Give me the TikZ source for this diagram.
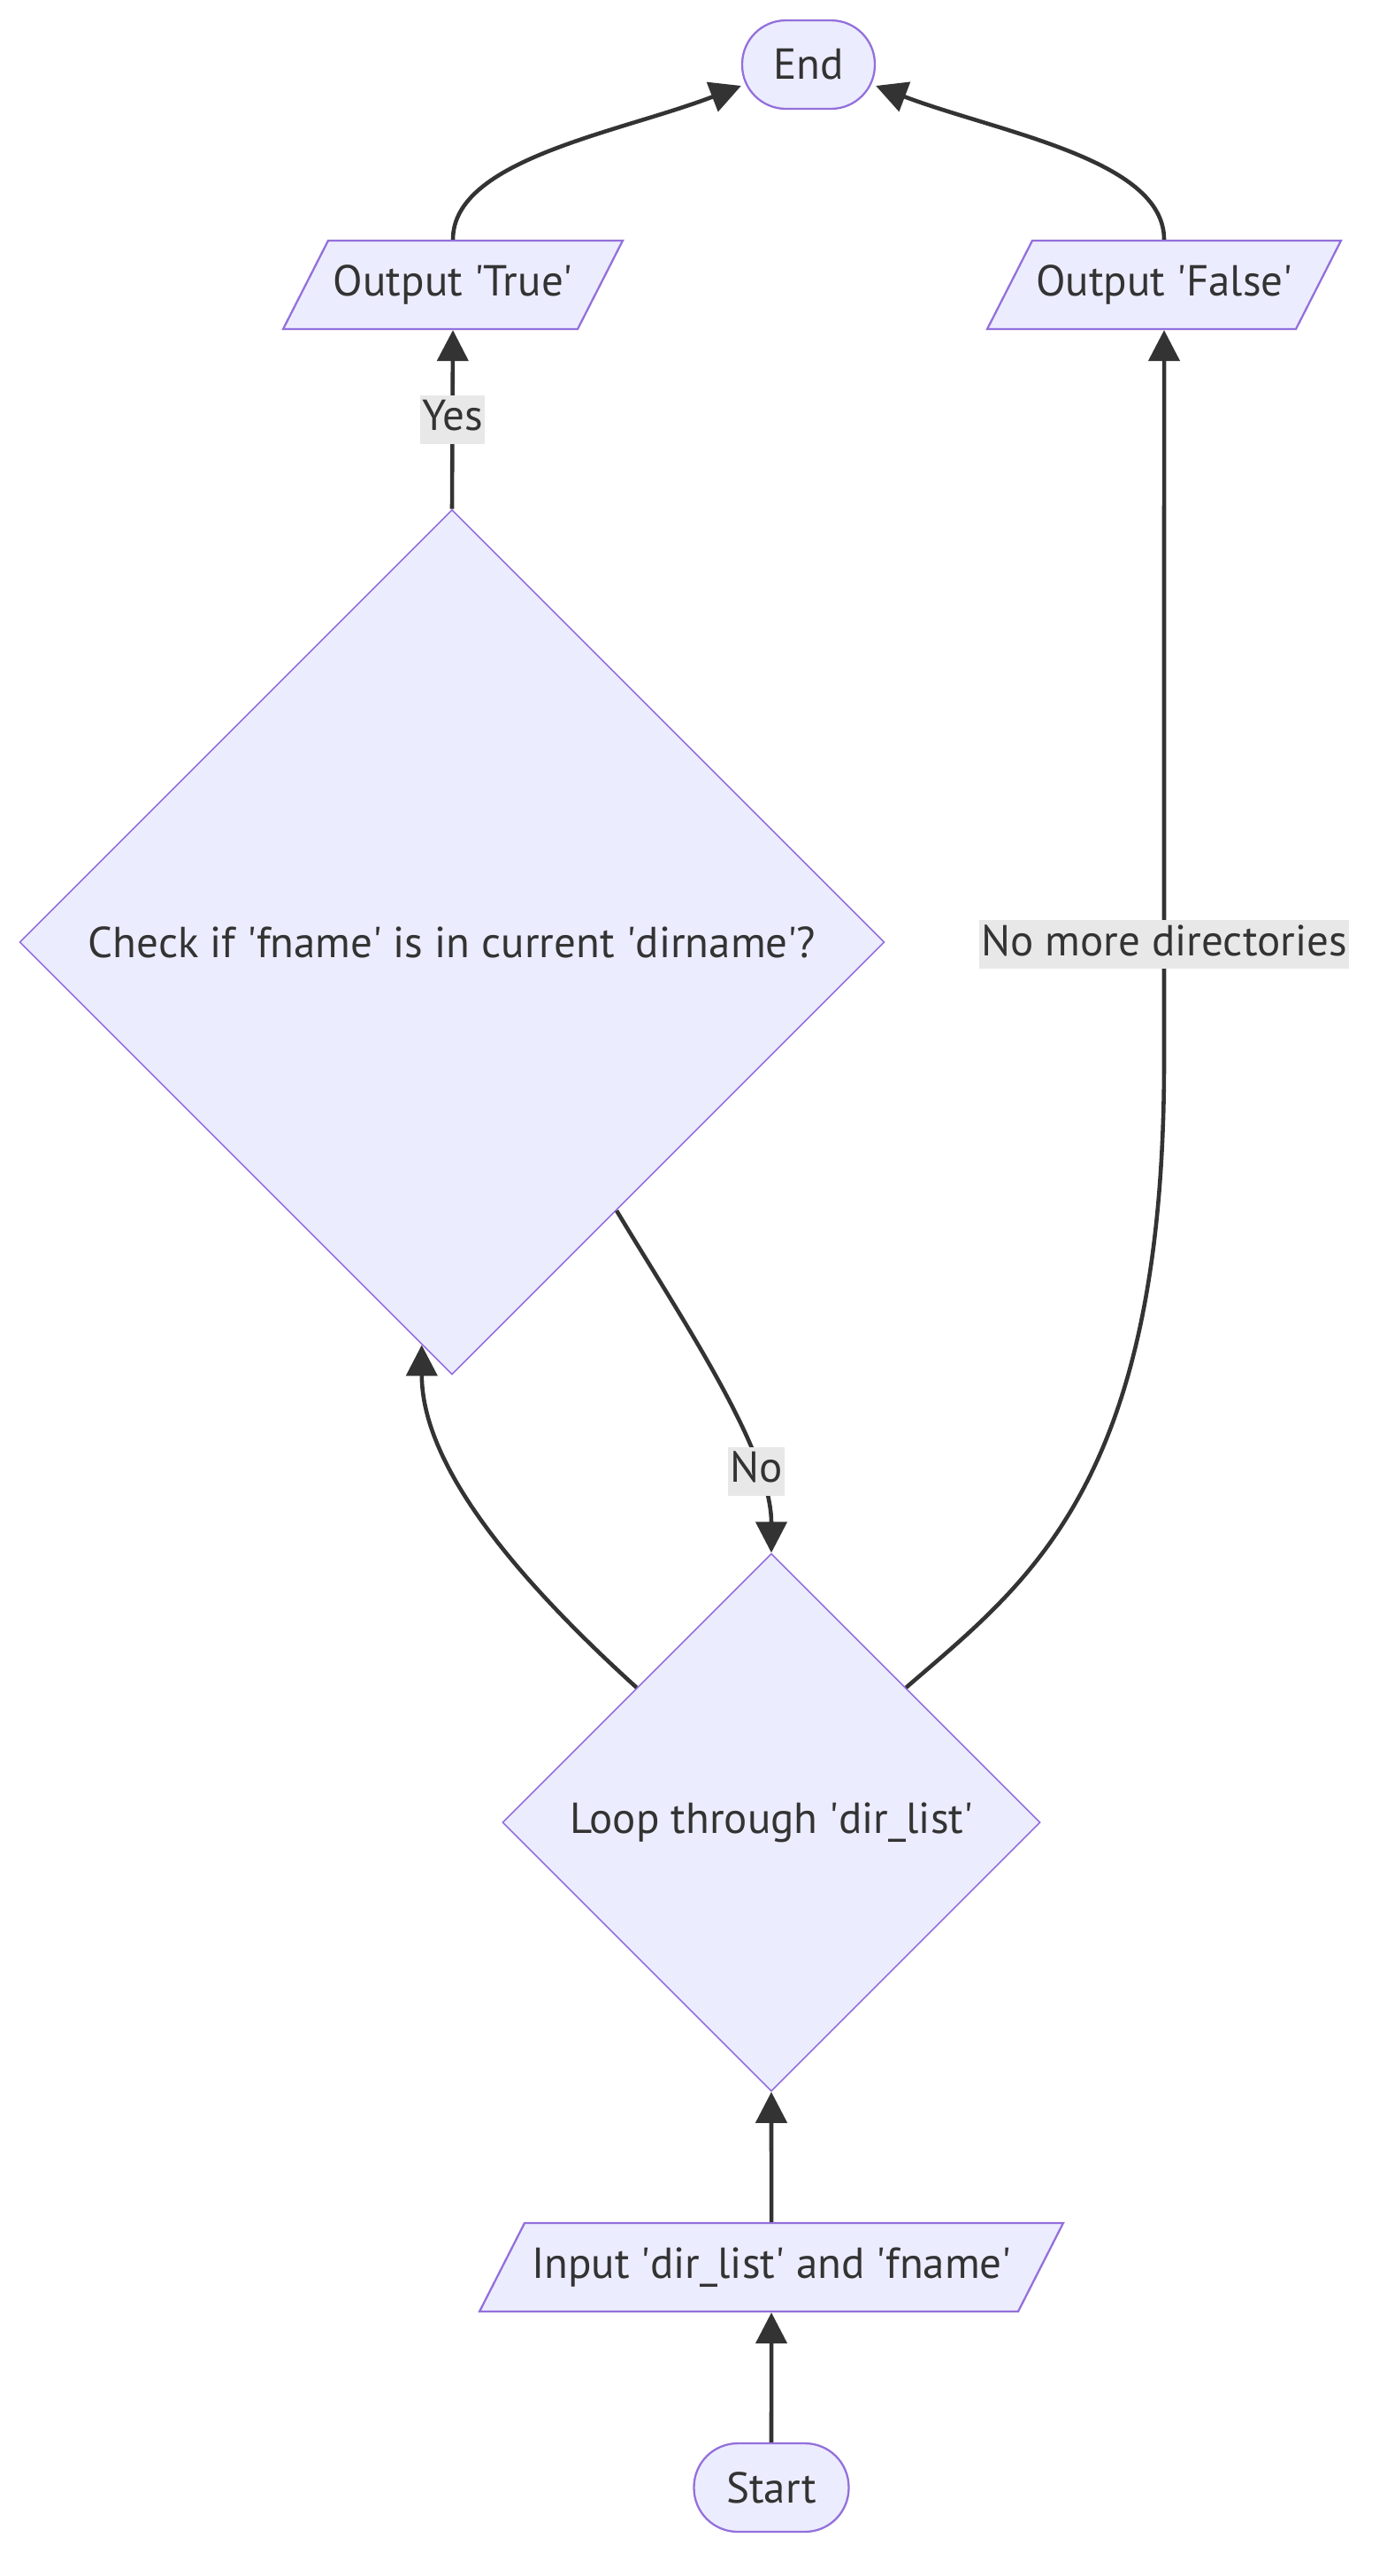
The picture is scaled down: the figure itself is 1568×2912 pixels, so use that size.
\documentclass[tikz,border=0pt]{standalone}
\usepackage{fontspec}
\setmainfont{PT Sans}[Ligatures=TeXOff]
\usetikzlibrary{arrows.meta,calc,shapes.geometric}
\definecolor{nodefill}{HTML}{ECECFF}
\definecolor{nodeline}{HTML}{9370DB}
\definecolor{edgeline}{HTML}{333333}
\definecolor{labelbg}{HTML}{E8E8E8}

\begin{document}
\begin{tikzpicture}[x=0.02cm, y=-0.02cm,
  every node/.style={font=\fontsize{27.9}{33}\selectfont, text=edgeline},
  box/.style={draw=nodeline, fill=nodefill, line width=1.3pt, inner sep=0pt},
  terminal/.style={box, rounded corners=0.99cm, minimum height=2cm},
  io/.style={box, trapezium, trapezium left angle=63, trapezium right angle=117,
    trapezium stretches body, inner ysep=0.51cm, text height=0.74cm, text depth=0.24cm},
  decision/.style={box, line width=0.9pt, diamond, aspect=1},
  flow/.style={draw=edgeline, line width=2.6pt, -{Triangle[length=0.7cm,width=0.7cm]}},
  elabel/.style={fill=labelbg, inner xsep=0.04cm, inner ysep=0.06cm,
    text height=0.74cm, text depth=0.24cm}]
  \path[fill=white] (0,0) rectangle (1568,2912);

  % Nodes
  \node[terminal, minimum width=3cm] (end) at (914,73) {End};
  \node[io, minimum width=7.68cm] (outtrue) at (512,322) {Output 'True'};
  \node[io, minimum width=8cm] (outfalse) at (1316,322) {Output 'False'};
  \node[decision, minimum size=19.56cm] (check) at (511,1065) {Check if 'fname' is in current 'dirname'?};
  \node[decision, minimum size=12.16cm] (loop) at (872,2060) {Loop through 'dir\_list'};
  \node[io, minimum width=13.2cm] (input) at (872,2563) {Input 'dir\_list' and 'fname'};
  \node[terminal, minimum width=3.5cm] (start) at (872,2812) {Start};

  % Main flow
  \draw[flow] (start) -- (input);
  \draw[flow] (input) -- (loop);
  \draw[flow] (loop.north west) .. controls (590,1790) and (477,1660) .. ($(check.south)!0.07!(check.west)$);
  \draw[flow] ($(check.east)!0.62!(check.south)$) .. controls (770,1490) and (872,1640) .. node[elabel, pos=0.75] {No} (loop.north);

  % Exits
  \draw[flow] (check.north) -- node[elabel] {Yes} (outtrue.south);
  \draw[flow] (loop.north east) .. controls (1160,1790) and (1316,1680) .. (1316,1200)
    -- node[elabel, pos=0.16] {No more directories} (outfalse.south);
  \draw[flow] (outtrue.north) .. controls (512,180) and (700,150) .. ([yshift=-0.48cm]end.west);
  \draw[flow] (outfalse.north) .. controls (1316,180) and (1130,150) .. ([yshift=-0.48cm]end.east);
\end{tikzpicture}
\end{document}
